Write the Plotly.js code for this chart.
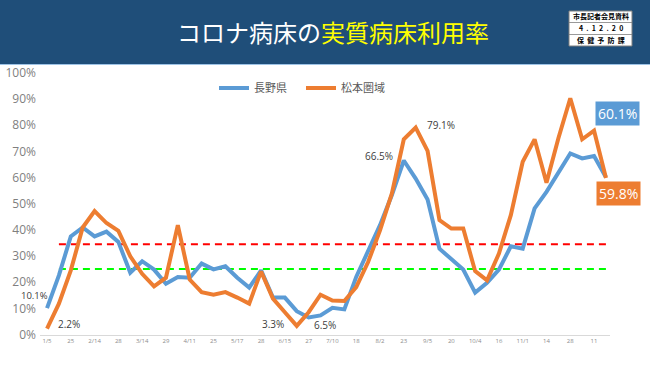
<!DOCTYPE html>
<html><head><meta charset="utf-8">
<script src="https://cdn.plot.ly/plotly-3.0.1.min.js"></script>
<style>html,body{margin:0;padding:0;background:#fff}#chart{width:650px;height:365px}</style>
</head><body><div id="chart"></div>
<script>
const tickLabels = ['1/5','25','2/14','28','3/14','29','4/11','25','5/17','28','6/15','27','7/10','18','8/2','23','9/5','20','10/4','16','11/1','14','28','11'];
const naganoRate = [10.1,22.6,37.5,40.9,37.5,39.3,35.4,23.6,28.0,24.8,19.4,22.0,21.7,27.1,24.9,26.1,21.7,17.9,24.5,14.1,14.1,8.9,6.5,7.3,10.2,9.6,22.0,32.2,41.8,53.3,66.5,59.6,51.6,32.8,29.0,24.8,16.0,19.8,24.8,33.7,32.8,48.2,54.5,61.8,69.2,67.3,68.2,60.1];
const matsumotoRate = [2.2,11.8,24.5,40.9,47.2,42.6,39.6,29.9,23.2,18.4,21.7,41.8,21.0,16.2,15.2,16.2,14.1,11.8,24.1,13.7,8.5,3.3,8.5,15.2,13.0,12.8,18.1,27.7,39.8,53.9,74.6,79.1,70.2,43.7,40.5,40.5,24.2,20.7,30.9,45.6,66.0,74.6,58.0,75.0,90.3,74.6,77.9,59.8];
const seriesNames = ['長野県','松本圏域'];
const thresholdRed = 34.5;
const thresholdGreen = 25;
const yTickValues = [0,10,20,30,40,50,60,70,80,90,100];

const BLUE = '#5B9BD5', ORANGE = '#ED7D31';
const xIdx = naganoRate.map((_, i) => i);
const last = naganoRate.length - 1;
const tickvals = tickLabels.map((_, i) => i * 2);

// pixel -> paper helpers (plot area: x 40..610, y 70..335)
const L = 40, R = 610, T = 70, B = 335;
const px = v => (v - L) / (R - L);
const py = v => (B - v) / (B - T);

const traces = [
  {x: [1, last], y: [thresholdRed, thresholdRed], mode: 'lines', line: {color: '#FF0000', width: 2, dash: '7px,5px'}, showlegend: false, hoverinfo: 'skip'},
  {x: [1, last], y: [thresholdGreen, thresholdGreen], mode: 'lines', line: {color: '#00FF00', width: 2, dash: '7px,5px'}, showlegend: false, hoverinfo: 'skip'},
  {x: xIdx, y: naganoRate, name: seriesNames[0], mode: 'lines', line: {color: BLUE, width: 4}},
  {x: xIdx, y: matsumotoRate, name: seriesNames[1], mode: 'lines', line: {color: ORANGE, width: 4}}
];

const lbl = (i, arr, dx, dy, sz) => ({x: i, y: arr[i], xref: 'x', yref: 'y', text: arr[i].toFixed(1) + '%', showarrow: false,
  xshift: dx, yshift: dy, font: {size: sz || 10, color: '#404040', family: 'Open Sans, sans-serif'}});

const hdr = (xp, yp, text, size, color) => ({x: px(xp), y: py(yp), xref: 'paper', yref: 'paper', showarrow: false,
  xanchor: 'center', yanchor: 'middle', text: text, font: {size: size, color: color, family: 'Noto Sans CJK JP, sans-serif'}});

const annotations = [
  lbl(0, naganoRate, -13, 13, 9.5),
  lbl(0, matsumotoRate, 22, 5),
  lbl(21, matsumotoRate, -24, 2),
  lbl(22, naganoRate, 16, -8),
  lbl(30, naganoRate, -25, 5),
  lbl(31, matsumotoRate, 25, 3),
  {x: last, y: naganoRate[last], xref: 'x', yref: 'y', text: naganoRate[last].toFixed(1) + '%', showarrow: false,
   xshift: 12, yshift: 64, bgcolor: BLUE, borderpad: 2, font: {size: 14, color: '#ffffff', family: 'Open Sans, sans-serif'}},
  {x: last, y: matsumotoRate[last], xref: 'x', yref: 'y', text: matsumotoRate[last].toFixed(1) + '%', showarrow: false,
   xshift: 13, yshift: -15, bgcolor: ORANGE, borderpad: 2, font: {size: 14, color: '#ffffff', family: 'Open Sans, sans-serif'}},
  hdr(333, 31, 'コロナ病床の<span style="color:#FFFF00">実質病床利用率</span>', 24, '#ffffff'),
  hdr(600.5, 16.5, '<b>市長記者会見資料</b>', 7, '#000000'),
  hdr(600.5, 28.5, '<b>4\u00a0\u00a0.\u00a0\u00a01\u00a0\u00a02\u00a0\u00a0.\u00a0\u00a02\u00a0\u00a00</b>', 7, '#000000'),
  hdr(600.5, 40.5, '<b>保\u00a0\u00a0健\u00a0\u00a0予\u00a0\u00a0防\u00a0\u00a0課</b>', 7, '#000000')
];

const shapes = [
  {type: 'rect', xref: 'paper', yref: 'paper', x0: px(0), x1: px(650), y0: py(64), y1: py(0), fillcolor: '#1F4E79', line: {width: 0}},
  {type: 'line', xref: 'paper', yref: 'paper', x0: px(0), x1: px(650), y0: py(64.5), y1: py(64.5), line: {color: '#9DC3E6', width: 1}},
  {type: 'rect', xref: 'paper', yref: 'paper', x0: px(569), x1: px(632), y0: py(46), y1: py(11), fillcolor: '#ffffff', line: {color: '#7f7f7f', width: 1}},
  {type: 'line', xref: 'paper', yref: 'paper', x0: px(569), x1: px(632), y0: py(22.5), y1: py(22.5), line: {color: '#7f7f7f', width: 0.8}},
  {type: 'line', xref: 'paper', yref: 'paper', x0: px(569), x1: px(632), y0: py(34.5), y1: py(34.5), line: {color: '#7f7f7f', width: 0.8}}
];

const layout = {
  width: 650, height: 365,
  margin: {l: L, r: 650 - R, t: T, b: 365 - B, pad: 0},
  paper_bgcolor: '#ffffff', plot_bgcolor: '#ffffff',
  font: {family: 'Open Sans, sans-serif'},
  xaxis: {range: [-0.59, 47.34], tickmode: 'array', tickvals: tickvals, ticktext: tickLabels,
    tickfont: {size: 6, color: '#8c8c8c'}, showline: true, linecolor: '#d9d9d9', linewidth: 1,
    showgrid: false, zeroline: false, ticks: '', fixedrange: true},
  yaxis: {range: [-0.2, 101.1], tickmode: 'array', tickvals: yTickValues, ticktext: yTickValues.map(v => v + '%'),
    tickfont: {size: 12, color: '#7f7f7f'}, showgrid: false, zeroline: false, showline: false, ticks: '',
    ticklabelstandoff: 3, fixedrange: true},
  showlegend: true,
  legend: {orientation: 'h', x: px(214), xanchor: 'left', y: py(88), yanchor: 'middle',
    font: {size: 11, color: '#595959', family: 'Noto Sans CJK JP, sans-serif'},
    bgcolor: 'rgba(0,0,0,0)', entrywidth: 42, entrywidthmode: 'pixels', itemwidth: 30},
  shapes: shapes,
  annotations: annotations
};

Plotly.newPlot('chart', traces, layout, {displayModeBar: false, staticPlot: true});
</script>
</body></html>
